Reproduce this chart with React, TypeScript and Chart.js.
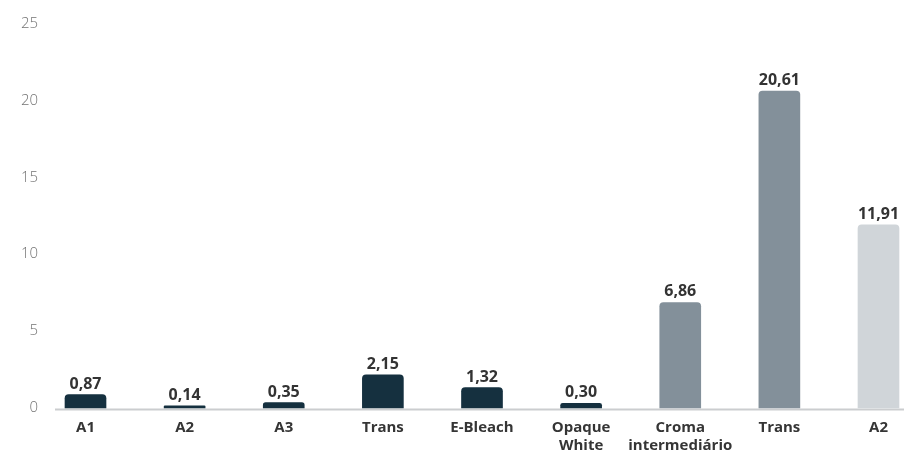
import React, { useEffect, useRef } from "react";
import { Chart, registerables } from "chart.js";

Chart.register(...registerables);

const categories: (string | string[])[] = [
  "A1",
  "A2",
  "A3",
  "Trans",
  "E-Bleach",
  ["Opaque", "White"],
  ["Croma", "intermediário"],
  "Trans",
  "A2",
];
const values: number[] = [0.87, 0.14, 0.35, 2.15, 1.32, 0.3, 6.86, 20.61, 11.91];
const barColors: string[] = [
  "#15303f",
  "#15303f",
  "#15303f",
  "#15303f",
  "#15303f",
  "#15303f",
  "#83909a",
  "#83909a",
  "#d0d5d9",
];
const yTicks: number[] = [0, 5, 10, 15, 20, 25];

const FONT = "'Open Sans', 'DejaVu Sans', sans-serif";

const fmt = (v: number) => v.toFixed(2).replace(".", ",");

const baselinePlugin = {
  id: "baseline",
  beforeDatasetsDraw(chart: any) {
    const { ctx, chartArea, scales } = chart;
    const y = scales.y.getPixelForValue(0) + 1.5;
    ctx.save();
    ctx.strokeStyle = "#cbcdcf";
    ctx.lineWidth = 2;
    ctx.beginPath();
    ctx.moveTo(chartArea.left - 30.5, y);
    ctx.lineTo(chart.width, y);
    ctx.stroke();
    ctx.restore();
  },
};

const valueLabelPlugin = {
  id: "valueLabels",
  afterDatasetsDraw(chart: any) {
    const { ctx } = chart;
    const meta = chart.getDatasetMeta(0);
    ctx.save();
    ctx.font = `700 16px ${FONT}`;
    ctx.fillStyle = "#333333";
    ctx.textAlign = "center";
    ctx.textBaseline = "alphabetic";
    meta.data.forEach((bar: any, i: number) => {
      ctx.fillText(fmt(values[i]), bar.x, bar.y - 6);
    });
    ctx.restore();
  },
};

export default function App() {
  const ref = useRef<HTMLCanvasElement | null>(null);

  useEffect(() => {
    if (!ref.current) return;
    const chart = new Chart(ref.current, {
      type: "bar",
      data: {
        labels: categories,
        datasets: [
          {
            data: values,
            backgroundColor: barColors,
            barThickness: 41,
            borderRadius: { topLeft: 4, topRight: 4, bottomLeft: 0, bottomRight: 0 },
            borderSkipped: false,
            clip: false as any,
          },
        ],
      },
      options: {
        animation: false,
        responsive: false,
        maintainAspectRatio: false,
        layout: { padding: { left: 0, right: 25.5, top: 23.5, bottom: 0 } },
        plugins: {
          legend: { display: false },
          tooltip: { enabled: false },
        },
        scales: {
          x: {
            offset: false,
            grid: { display: false, drawTicks: false },
            border: { display: false },
            ticks: {
              padding: 11.5,
              color: "#353535",
              font: { family: FONT, size: 15, weight: "bold", lineHeight: 1.15 },
              maxRotation: 0,
              minRotation: 0,
              autoSkip: false,
            },
            afterFit(scale: any) {
              scale.height = 46;
              scale.paddingLeft = 0;
              scale.paddingRight = 0;
            },
          },
          y: {
            min: 0,
            max: 25,
            afterBuildTicks(scale: any) {
              scale.ticks = yTicks.map((v) => ({ value: v }));
            },
            grid: { display: false, drawTicks: false },
            border: { display: false },
            ticks: {
              padding: 47.5,
              color: "#737373",
              font: { family: FONT, size: 15, weight: "300" },
            },
            afterFit(scale: any) {
              scale.width = 85.5;
              scale.paddingTop = 8;
              scale.paddingBottom = 8;
            },
          },
        },
      },
      plugins: [baselinePlugin, valueLabelPlugin],
    });
    return () => chart.destroy();
  }, []);

  return (
    <div style={{ position: "fixed", left: 0, top: 0, width: 904, height: 454, background: "#fff" }}>
      <canvas ref={ref} width={904} height={454} style={{ width: 904, height: 454 }} />
    </div>
  );
}
